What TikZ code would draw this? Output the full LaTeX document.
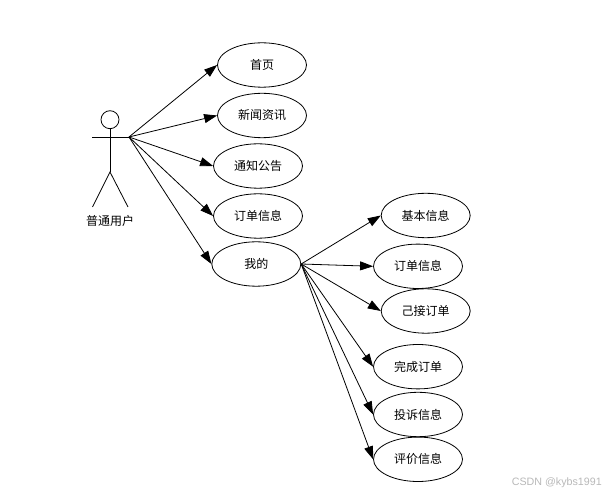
\documentclass[tikz,border=0pt]{standalone}
\usepackage{fontspec}
\setmainfont{Noto Sans CJK SC}
\newfontfamily\wmfont{Liberation Sans}
\usetikzlibrary{shapes.geometric,arrows.meta}
\tikzset{
  usecase/.style={draw=black,ellipse,inner sep=0pt,minimum width=89pt,minimum height=44.4pt,line width=0.8pt,font=\fontsize{12}{13}\selectfont,text=black},
  actorline/.style={draw=black,line width=0.8pt},
  flow/.style={draw=black,line width=0.8pt,-{Triangle[length=13pt,width=9pt]},shorten >=0pt},
  actorlabel/.style={font=\fontsize{12}{13}\selectfont,text=black,inner sep=0pt},
  watermark/.style={font=\wmfont\fontsize{10.7}{12}\selectfont,text=black!28,inner sep=0pt}
}
\begin{document}
\begin{tikzpicture}[x=1pt,y=-1pt]
\useasboundingbox (0,0) rectangle (611,494);
\node[usecase] (home) at (262,65) {首页};
\node[usecase] (news) at (262,115.5) {新闻资讯};
\node[usecase] (notice) at (258,166) {通知公告};
\node[usecase] (order) at (258,216) {订单信息};
\node[usecase] (mine) at (256.3,264) {我的};
\node[usecase] (basic) at (425.7,215.5) {基本信息};
\node[usecase] (morder) at (418,266.3) {订单信息};
\node[usecase] (taken) at (425.7,311) {己接订单};
\node[usecase] (done) at (418,366.7) {完成订单};
\node[usecase] (complain) at (418,414.5) {投诉信息};
\node[usecase] (review) at (418,459.3) {评价信息};
% actor
\node[draw=black,circle,line width=0.8pt,minimum size=18pt,inner sep=0pt] (head) at (110,119.7) {};
\coordinate (hip) at (110,172);
\coordinate (armL) at (92,137);
\coordinate (armR) at (129,137);
\coordinate (legL) at (92.5,207);
\coordinate (legR) at (128,207);
\draw[actorline] (head.south) -- (hip);
\draw[actorline] (armL) -- (armR);
\draw[actorline] (legL) -- (hip) -- (legR);
\node[actorlabel] (actor) at (110,221) {普通用户};
% connectors
\draw[flow] (armR) -- (home.west);
\draw[flow] (armR) -- (news.west);
\draw[flow] (armR) -- (notice.west);
\draw[flow] (armR) -- (order.west);
\draw[flow] (armR) -- (mine.west);
\draw[flow] (mine.east) -- (basic.west);
\draw[flow] (mine.east) -- (morder.west);
\draw[flow] (mine.east) -- (taken.west);
\draw[flow] (mine.east) -- (done.west);
\draw[flow] (mine.east) -- (complain.west);
\draw[flow] (mine.east) -- (review.west);
\node[watermark,anchor=east] (wm) at (602,482.5) {CSDN @kybs1991};
\end{tikzpicture}
\end{document}
